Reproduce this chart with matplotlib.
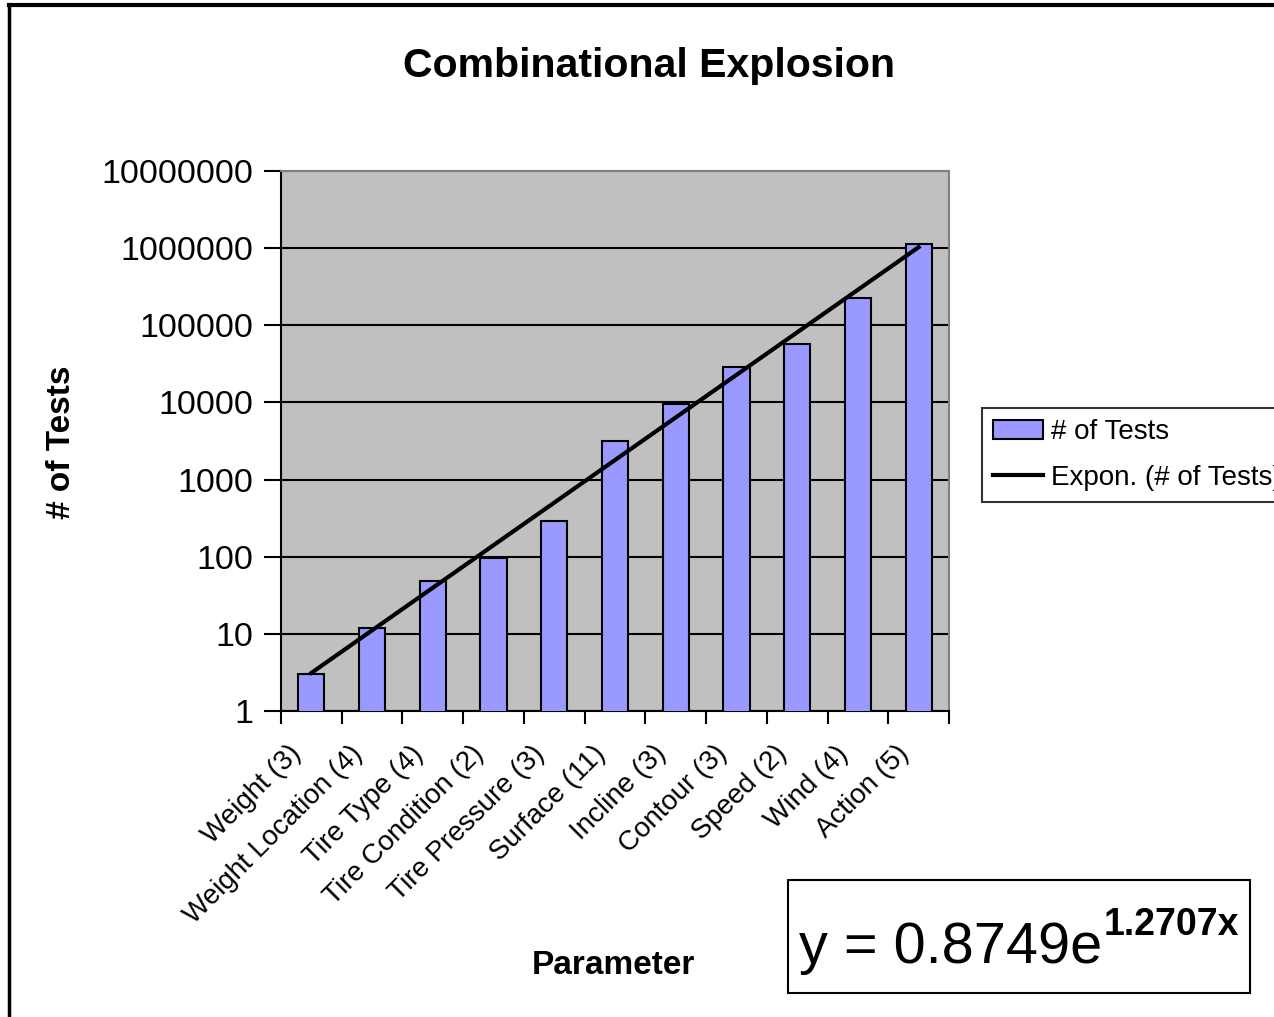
import numpy as np
import matplotlib
matplotlib.use("Agg")
import matplotlib.pyplot as plt
from matplotlib.lines import Line2D
from matplotlib.patches import Rectangle

plt.rcParams['font.family'] = ['Liberation Sans', 'DejaVu Sans']

# data
params = ["Weight (3)", "Weight Location (4)", "Tire Type (4)", "Tire Condition (2)",
          "Tire Pressure (3)", "Surface (11)", "Incline (3)", "Contour (3)",
          "Speed (2)", "Wind (4)", "Action (5)"]
n_tests = [3, 12, 48, 96, 288, 3168, 9504, 28512, 57024, 228096, 1140480]
# exponential trendline as printed on the chart
trend_a = 0.8749
trend_b = 1.2707

fig = plt.figure(figsize=(12.74, 10.17), dpi=100)
ax = fig.add_axes([281 / 1274, 306 / 1017, 668 / 1274, 540 / 1017])

x = np.arange(len(params))
bars = ax.bar(x, n_tests, width=0.43, color='#9999FF', edgecolor='black', linewidth=1.5,
              label='# of Tests', zorder=3)
xt = np.linspace(0, len(params) - 1, 100)
trend, = ax.plot(xt, trend_a * np.exp(trend_b * (xt + 1)), color='black', lw=3,
                 label='Expon. (# of Tests)', zorder=4)

ax.set_yscale('log')
ax.set_ylim(1, 1e7)
ax.set_xlim(-0.5, len(params) - 0.5)
ax.set_facecolor('#C0C0C0')
ax.yaxis.grid(True, which='major', color='black', lw=1.5, zorder=1)
ax.set_axisbelow(True)
ax.set_yticks([10 ** k for k in range(8)])
ax.set_yticklabels([str(10 ** k) for k in range(8)], fontsize=24.5)
ax.minorticks_off()
ax.tick_params(axis='y', direction='out', length=12, width=1.5, pad=8)

ax.set_xticks(np.arange(len(params) + 1) - 0.5)
ax.set_xticklabels([])
ax.tick_params(axis='x', direction='out', length=9, width=1.5)
for i, p in enumerate(params):
    ax.text(i - 0.38, -0.055, p, transform=ax.get_xaxis_transform(), rotation=45,
            ha='right', va='top', rotation_mode='anchor', fontsize=20)

for s in ['left', 'bottom']:
    ax.spines[s].set_color('black')
    ax.spines[s].set_linewidth(1.5)
for s in ['top', 'right']:
    ax.spines[s].set_color('#808080')
    ax.spines[s].set_linewidth(1.5)

fig.text(649 / 1274, 1 - 66 / 1017, 'Combinational Explosion', ha='center', va='center',
         fontsize=29.5, fontweight='bold')
fig.text(62 / 1274, 1 - 442 / 1017, '# of Tests', ha='center', va='center', rotation=90,
         fontsize=24, fontweight='bold')
fig.text(613 / 1274, 1 - 966 / 1017, 'Parameter', ha='center', va='center',
         fontsize=24, fontweight='bold')

leg = fig.legend([bars, trend], ['# of Tests', 'Expon. (# of Tests)'], loc='upper left',
                 bbox_to_anchor=(982 / 1274, 1 - 408 / 1017),
                 fontsize=20, frameon=True, fancybox=False, edgecolor='black',
                 handlelength=1.8, handletextpad=0.3, borderpad=0.4, labelspacing=0.7,
                 borderaxespad=0)
leg.get_frame().set_linewidth(1.5)

# equation box
fig.patches.append(Rectangle((788 / 1274, 1 - 993 / 1017), 462 / 1274, 113 / 1017,
                             transform=fig.transFigure, fill=False, edgecolor='black',
                             lw=1.5))
fig.text(799 / 1274, 1 - 963 / 1017, 'y = %.4fe' % trend_a, ha='left', va='baseline',
         fontsize=41.5)
fig.text(1104 / 1274, 1 - 935 / 1017, '%.4fx' % trend_b, ha='left', va='baseline',
         fontsize=27, fontweight='bold')

# outer chart border (only left and top are visible)
fig.add_artist(Line2D([9 / 1274, 9 / 1274], [0, 1 - 5 / 1017], transform=fig.transFigure,
                      color='black', lw=2.5))
fig.add_artist(Line2D([9 / 1274, 1], [1 - 5 / 1017, 1 - 5 / 1017], transform=fig.transFigure,
                      color='black', lw=3))

fig.savefig('out.png', dpi=100)
